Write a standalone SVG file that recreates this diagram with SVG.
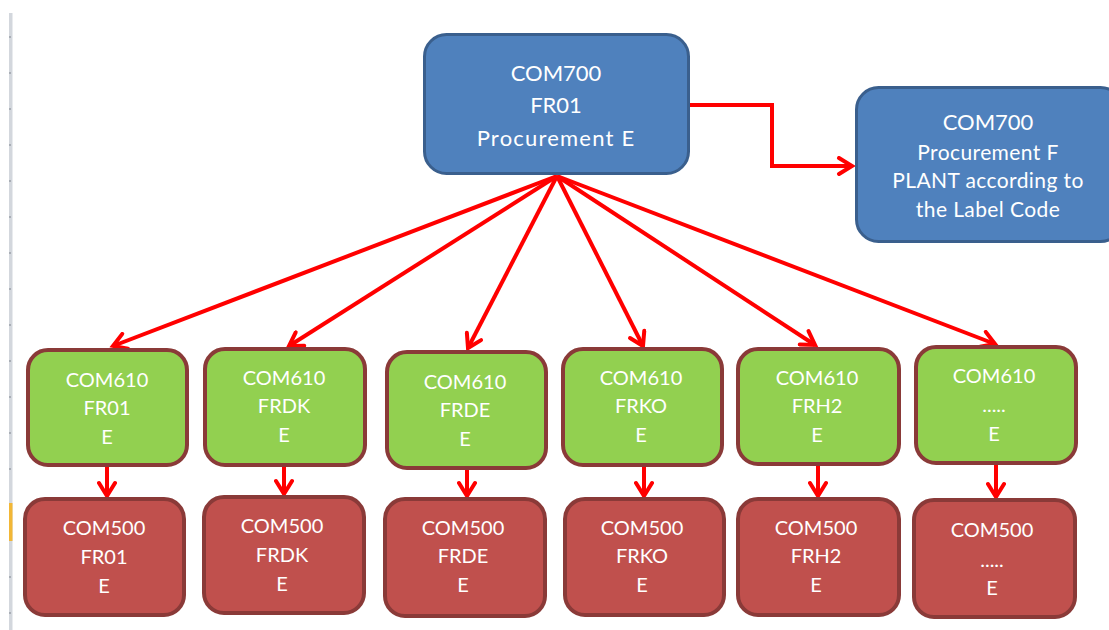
<svg xmlns="http://www.w3.org/2000/svg" width="1109" height="630" viewBox="0 0 1109 630">
  <defs>
    <marker id="arrow" markerUnits="userSpaceOnUse" markerWidth="20" markerHeight="20" viewBox="0 0 20 20" refX="16" refY="10" orient="auto">
      <path d="M3,2 L16,10 L3,18" fill="none" stroke="#FF0000" stroke-width="4" stroke-linejoin="miter" stroke-linecap="round"/>
    </marker>
  </defs>
  <style>
    .blue  { fill: #4F81BD; stroke: #3A5F8D; stroke-width: 3; }
    .green { fill: #92D050; stroke: #8A3A38; stroke-width: 4; }
    .red   { fill: #C0504D; stroke: #8A3A38; stroke-width: 4; }
    text   { font-family: Lato, "Liberation Sans", sans-serif; fill: #FFFFFF; text-anchor: middle; }
    .big   { font-size: 22px; }
    .wide  { font-size: 22px; letter-spacing: 1.2px; }
    .note  { font-size: 21px; letter-spacing: 0.4px; }
    .mid   { font-size: 20px; }
    .link  { fill: none; stroke: #FF0000; stroke-width: 4; marker-end: url(#arrow); }
  </style>

  <rect width="1109" height="630" fill="#FFFFFF"/>

  <!-- sheet edge on the left -->
  <g id="sheet-edge">
    <rect x="9" y="13" width="3.5" height="617" fill="#D3D7DD"/>
    <rect x="9" y="503" width="3.5" height="38" fill="#F2B736"/>
    <g fill="#A9AEB6">
      <rect x="9" y="36" width="2" height="2"/>
      <rect x="9" y="72" width="2" height="2"/>
      <rect x="9" y="108" width="2" height="2"/>
      <rect x="9" y="144" width="2" height="2"/>
      <rect x="9" y="180" width="2" height="2"/>
      <rect x="9" y="216" width="2" height="2"/>
      <rect x="9" y="252" width="2" height="2"/>
      <rect x="9" y="288" width="2" height="2"/>
      <rect x="9" y="324" width="2" height="2"/>
      <rect x="9" y="360" width="2" height="2"/>
      <rect x="9" y="396" width="2" height="2"/>
      <rect x="9" y="432" width="2" height="2"/>
      <rect x="9" y="468" width="2" height="2"/>
      <rect x="9" y="576" width="2" height="2"/>
      <rect x="9" y="612" width="2" height="2"/>
    </g>
  </g>

  <!-- connectors -->
  <g id="connectors">
    <polyline class="link" points="690,105 772,105 772,166 852,166"/>
    <line class="link" x1="557" y1="176" x2="113" y2="346"/>
    <line class="link" x1="557" y1="176" x2="289" y2="346"/>
    <line class="link" x1="557" y1="176" x2="468" y2="348"/>
    <line class="link" x1="557" y1="176" x2="643" y2="346"/>
    <line class="link" x1="557" y1="176" x2="815" y2="345"/>
    <line class="link" x1="557" y1="176" x2="995" y2="344"/>
    <line class="link" x1="107" y1="467" x2="107" y2="496"/>
    <line class="link" x1="284" y1="467" x2="284" y2="494"/>
    <line class="link" x1="467" y1="470" x2="467" y2="496"/>
    <line class="link" x1="644" y1="467" x2="644" y2="496"/>
    <line class="link" x1="818" y1="466" x2="818" y2="496"/>
    <line class="link" x1="996" y1="465" x2="996" y2="497"/>
  </g>

  <!-- top level -->
  <g id="com700-fr01">
    <rect class="blue" x="424.5" y="34.5" width="264" height="139" rx="22"/>
    <text class="big" x="556" y="81">COM700</text>
    <text class="big" x="556" y="113">FR01</text>
    <text class="wide" x="556" y="146">Procurement E</text>
  </g>

  <g id="com700-plant">
    <rect class="blue" x="856.5" y="87.5" width="266" height="154" rx="22"/>
    <text class="big" x="988" y="130">COM700</text>
    <text class="note" x="988" y="160">Procurement F</text>
    <text class="note" x="988" y="188">PLANT according to</text>
    <text class="note" x="988" y="217">the Label Code</text>
  </g>

  <!-- COM610 row -->
  <g id="com610-fr01">
    <rect class="green" x="28" y="350" width="159" height="115" rx="20"/>
    <text class="mid" x="107" y="387">COM610</text>
    <text class="mid" x="107" y="415">FR01</text>
    <text class="mid" x="107" y="444">E</text>
  </g>
  <g id="com610-frdk">
    <rect class="green" x="205" y="349" width="160" height="116" rx="20"/>
    <text class="mid" x="284" y="385">COM610</text>
    <text class="mid" x="284" y="413">FRDK</text>
    <text class="mid" x="284" y="442">E</text>
  </g>
  <g id="com610-frde">
    <rect class="green" x="387" y="352" width="159" height="116" rx="20"/>
    <text class="mid" x="465" y="389">COM610</text>
    <text class="mid" x="465" y="417">FRDE</text>
    <text class="mid" x="465" y="446">E</text>
  </g>
  <g id="com610-frko">
    <rect class="green" x="563" y="349" width="159" height="116" rx="20"/>
    <text class="mid" x="641" y="385">COM610</text>
    <text class="mid" x="641" y="413">FRKO</text>
    <text class="mid" x="641" y="442">E</text>
  </g>
  <g id="com610-frh2">
    <rect class="green" x="738" y="349" width="161" height="115" rx="20"/>
    <text class="mid" x="817" y="385">COM610</text>
    <text class="mid" x="817" y="413">FRH2</text>
    <text class="mid" x="817" y="442">E</text>
  </g>
  <g id="com610-more">
    <rect class="green" x="916" y="347" width="160" height="116" rx="20"/>
    <text class="mid" x="994" y="383">COM610</text>
    <text class="mid" x="994" y="412">.....</text>
    <text class="mid" x="994" y="441">E</text>
  </g>

  <!-- COM500 row -->
  <g id="com500-fr01">
    <rect class="red" x="25" y="499" width="159" height="116" rx="20"/>
    <text class="mid" x="104" y="535">COM500</text>
    <text class="mid" x="104" y="564">FR01</text>
    <text class="mid" x="104" y="593">E</text>
  </g>
  <g id="com500-frdk">
    <rect class="red" x="204" y="497" width="160" height="116" rx="20"/>
    <text class="mid" x="282" y="533">COM500</text>
    <text class="mid" x="282" y="562">FRDK</text>
    <text class="mid" x="282" y="591">E</text>
  </g>
  <g id="com500-frde">
    <rect class="red" x="385" y="499" width="160" height="117" rx="20"/>
    <text class="mid" x="463" y="535">COM500</text>
    <text class="mid" x="463" y="563">FRDE</text>
    <text class="mid" x="463" y="592">E</text>
  </g>
  <g id="com500-frko">
    <rect class="red" x="565" y="499" width="159" height="116" rx="20"/>
    <text class="mid" x="642" y="535">COM500</text>
    <text class="mid" x="642" y="563">FRKO</text>
    <text class="mid" x="642" y="592">E</text>
  </g>
  <g id="com500-frh2">
    <rect class="red" x="738" y="499" width="161" height="116" rx="20"/>
    <text class="mid" x="816" y="535">COM500</text>
    <text class="mid" x="816" y="563">FRH2</text>
    <text class="mid" x="816" y="592">E</text>
  </g>
  <g id="com500-more">
    <rect class="red" x="914" y="500" width="161" height="117" rx="20"/>
    <text class="mid" x="992" y="537">COM500</text>
    <text class="mid" x="992" y="567">.....</text>
    <text class="mid" x="992" y="595">E</text>
  </g>
</svg>
